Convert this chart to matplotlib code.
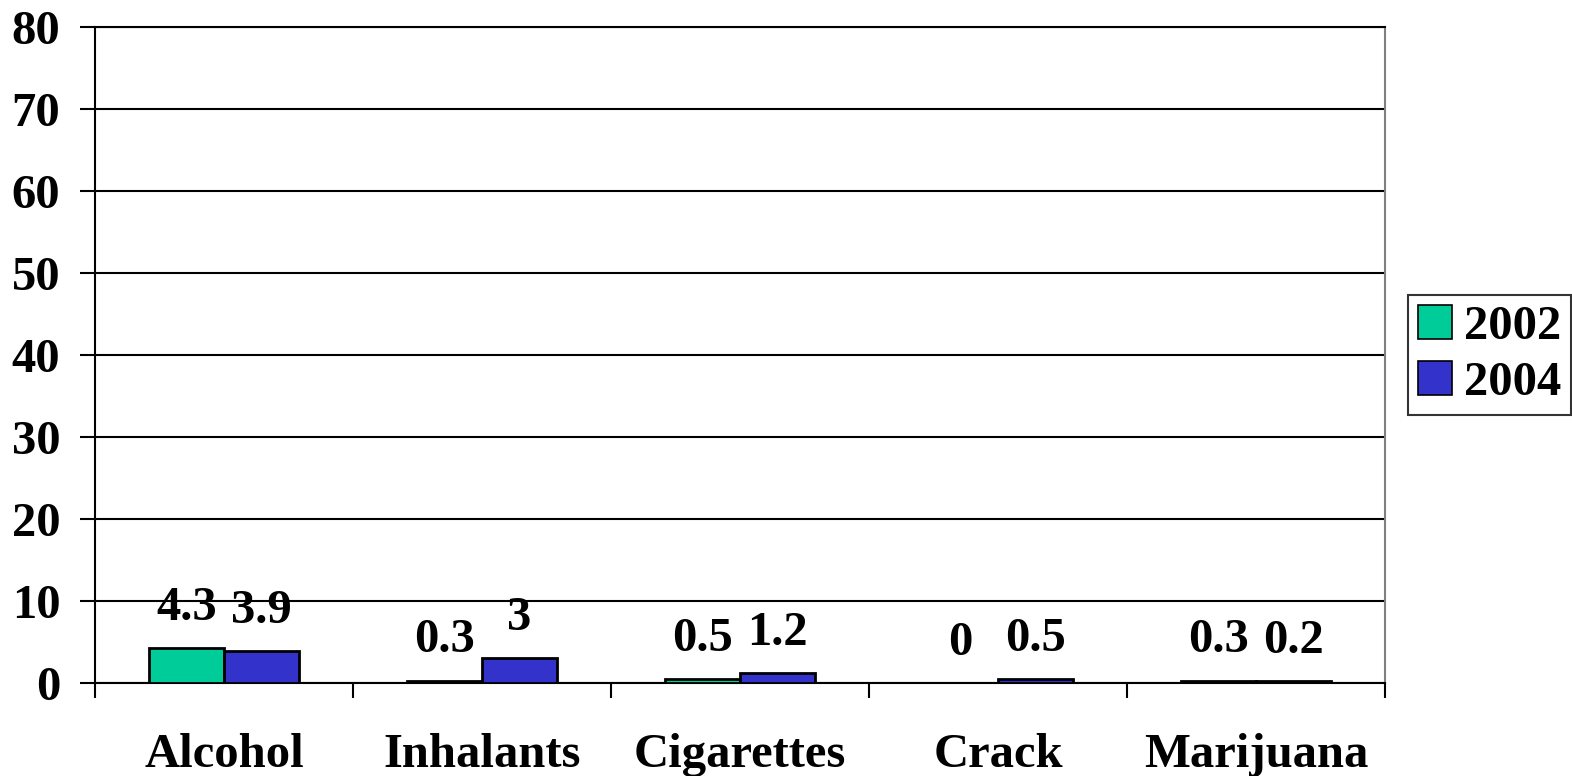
import matplotlib.pyplot as plt
import numpy as np

categories = ['Alcohol', 'Inhalants', 'Cigarettes', 'Crack', 'Marijuana']
years = ['2002', '2004']
values_2002 = [4.3, 0.3, 0.5, 0, 0.3]
values_2004 = [3.9, 3, 1.2, 0.5, 0.2]
yticks = [0, 10, 20, 30, 40, 50, 60, 70, 80]

plt.rcParams['font.family'] = ['Liberation Serif', 'DejaVu Serif']
plt.rcParams['font.weight'] = 'bold'
fs = 35

fig = plt.figure(figsize=(15.72, 7.76), dpi=100)
ax = fig.add_axes([95/1572, 93/776, 1290/1572, 656/776])

x = np.arange(len(categories))
w = 0.29
colors = ['#00CC99', '#3333CC']
bars1 = ax.bar(x - w/2, values_2002, w, color=colors[0], edgecolor='black', linewidth=2, label=years[0], zorder=3)
bars2 = ax.bar(x + w/2, values_2004, w, color=colors[1], edgecolor='black', linewidth=2, label=years[1], zorder=3)

for bars, vals in [(bars1, values_2002), (bars2, values_2004)]:
    for b, v in zip(bars, vals):
        ax.annotate(f'{v:g}', (b.get_x() + b.get_width()/2, v), xytext=(0, 13),
                    textcoords='offset points', ha='center', va='bottom',
                    fontsize=fs, fontweight='bold')

ax.set_xlim(-0.5, len(categories) - 0.5)
ax.set_ylim(0, 80)
ax.set_yticks(yticks)
ax.set_yticklabels([str(t) for t in yticks], fontsize=fs, fontweight='bold')
ax.yaxis.grid(True, color='black', linewidth=1.5, zorder=0)
ax.tick_params(axis='y', length=11, width=1.5, pad=14)

ax.set_xticks(np.arange(len(categories) + 1) - 0.5)
ax.set_xticklabels([])
ax.tick_params(axis='x', which='major', length=11, width=1.5)
ax.set_xticks(x, minor=True)
ax.set_xticklabels(categories, minor=True, fontsize=fs, fontweight='bold')
ax.tick_params(axis='x', which='minor', length=0, pad=36)

ax.spines['left'].set_linewidth(1.5)
ax.spines['bottom'].set_linewidth(1.5)
ax.spines['top'].set_linewidth(1.5)
ax.spines['right'].set_color('#808080')
ax.spines['right'].set_linewidth(1.5)

leg = ax.legend(loc='center left', bbox_to_anchor=(1.018, 0.5), fontsize=fs,
                frameon=True, fancybox=False, edgecolor='black', handlelength=0.7,
                handleheight=0.7, handletextpad=0.25, borderpad=0.2, labelspacing=0.25,
                borderaxespad=0)
leg.get_frame().set_linewidth(1.5)
for h in leg.legend_handles:
    h.set_linewidth(1.2)

fig.savefig('out.png', dpi=100)
